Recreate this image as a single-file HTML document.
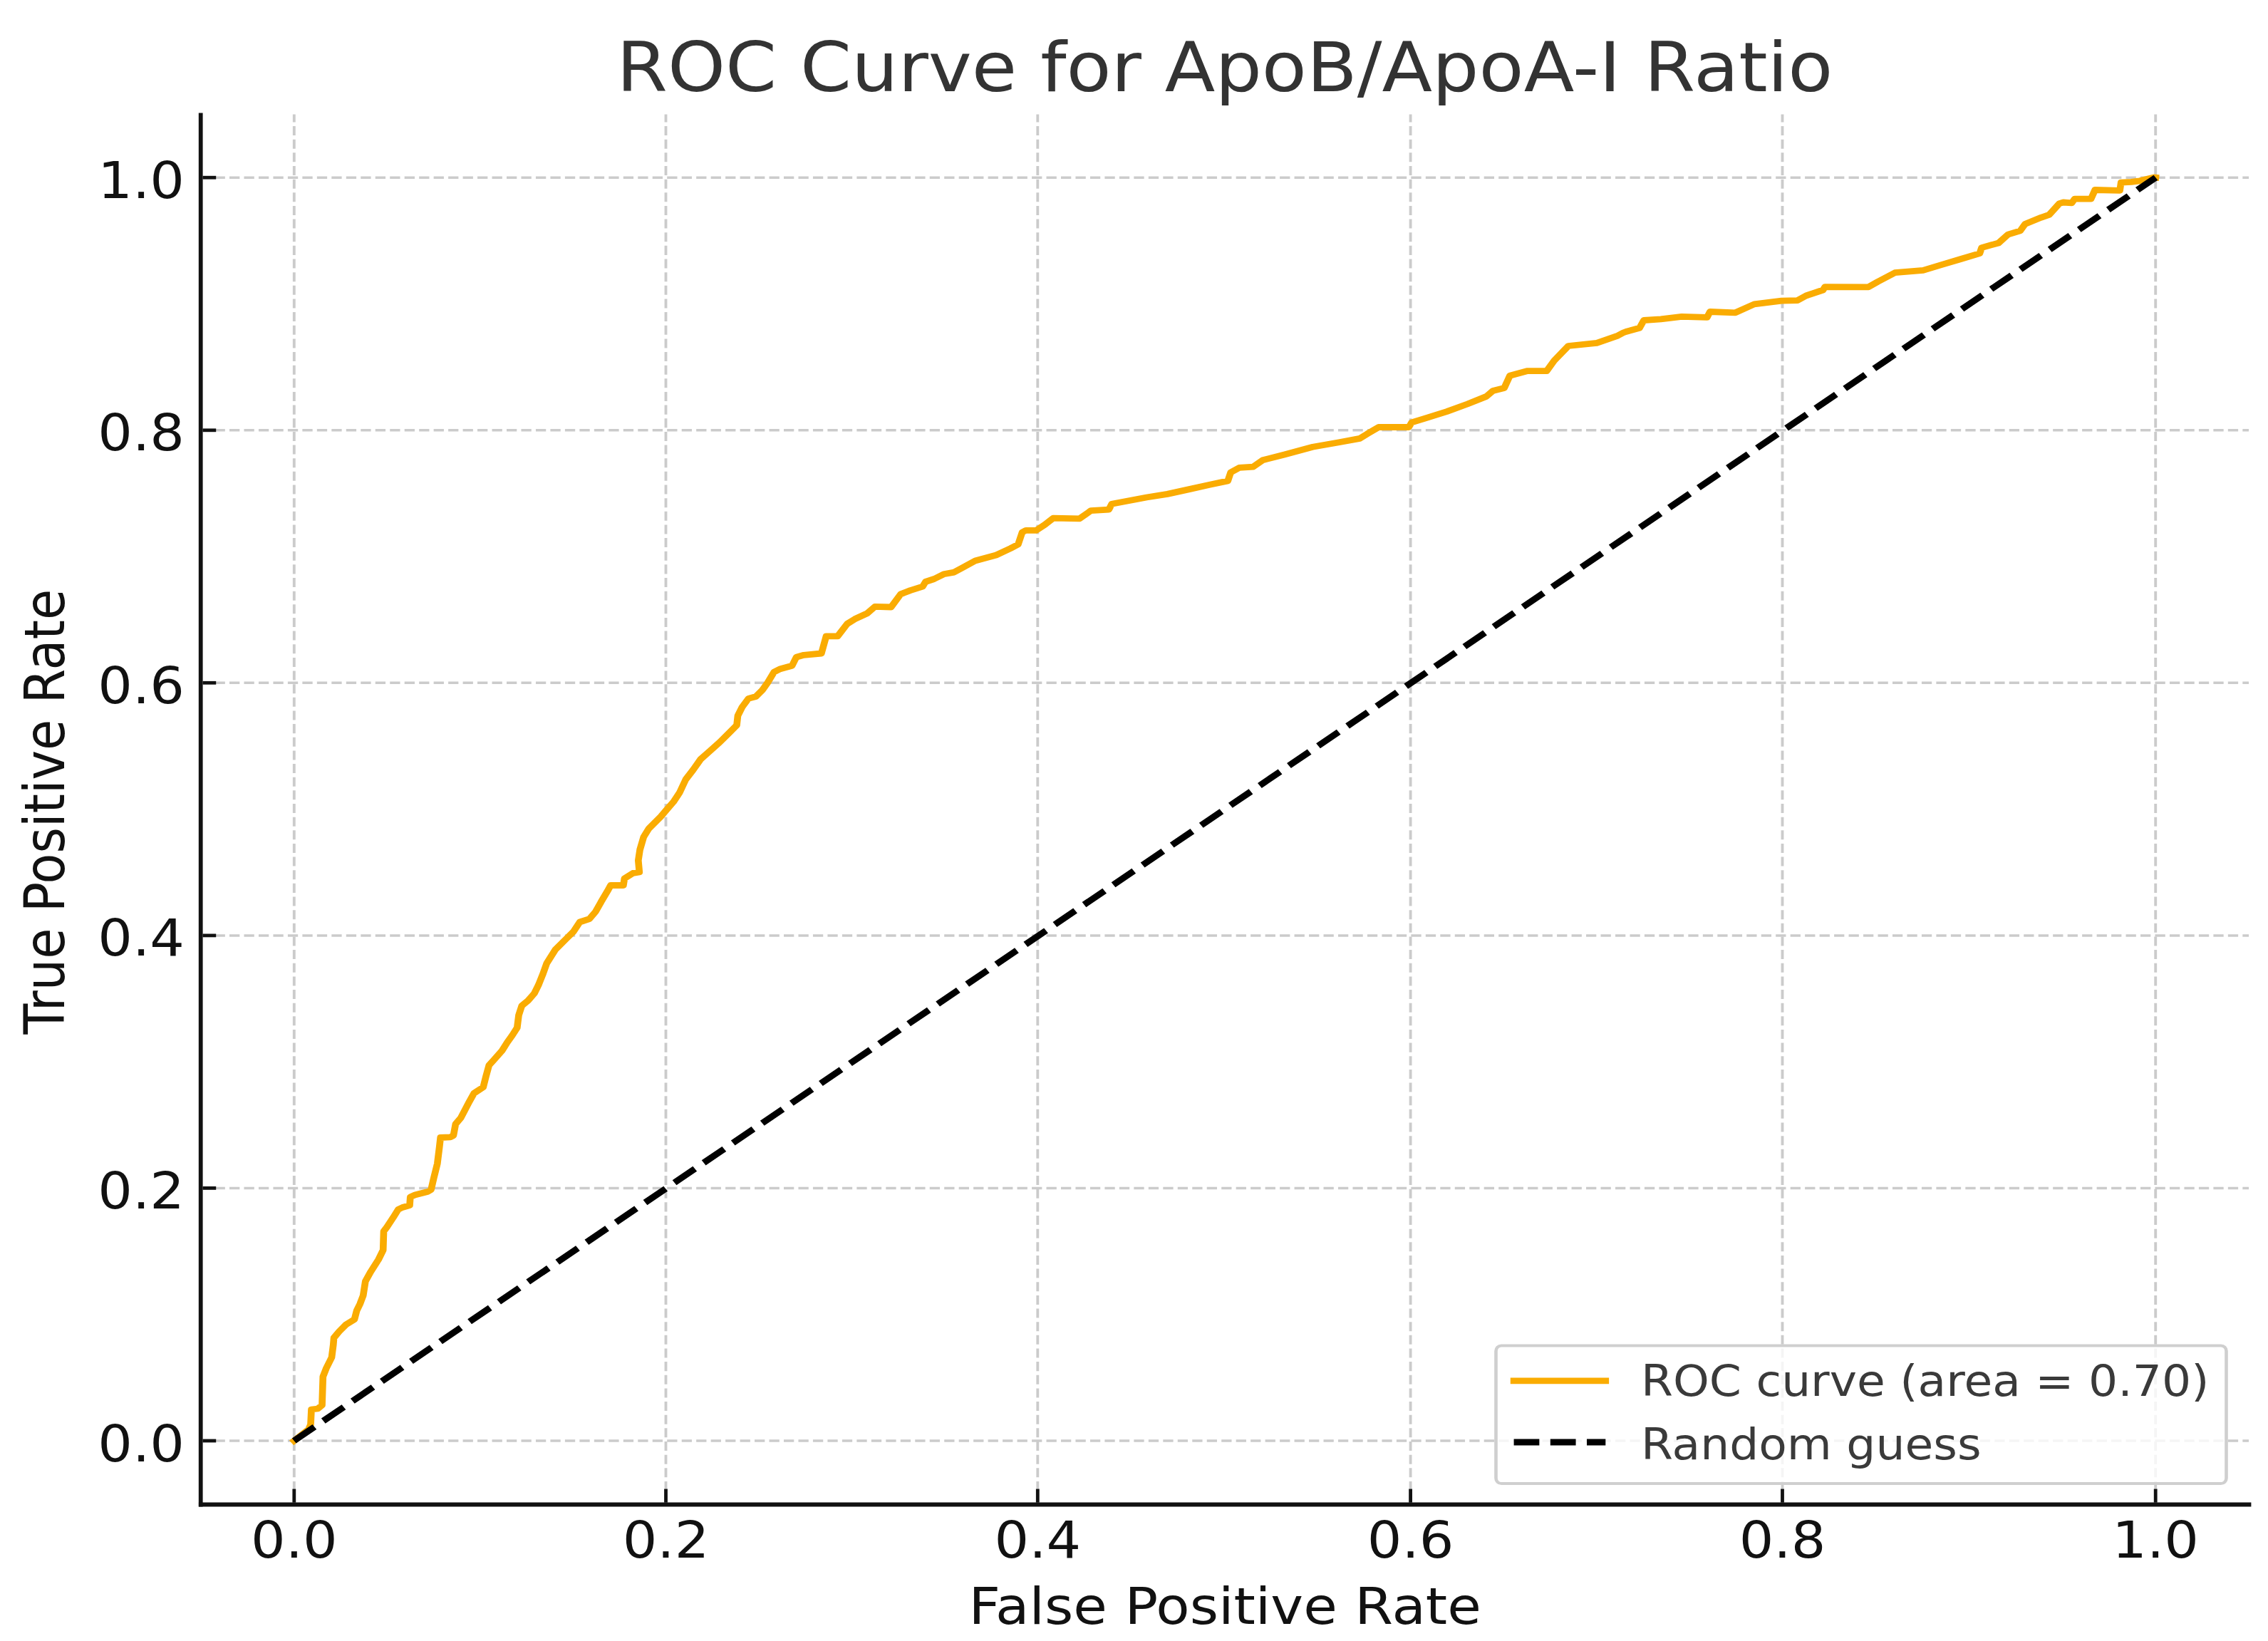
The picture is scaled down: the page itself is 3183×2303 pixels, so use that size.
<!DOCTYPE html>
<html><head><meta charset="utf-8"><style>
html,body{margin:0;padding:0;background:#fff;width:3183px;height:2303px;overflow:hidden}
svg{display:block}
text{font-family:"DejaVu Sans","Liberation Sans",sans-serif}
</style></head><body>
<svg width="3183" height="2303" viewBox="0 0 3183 2303">
<rect width="3183" height="2303" fill="#ffffff"/>
<g transform="scale(1.098,1)">
<line x1="375.96" y1="2110.6" x2="375.96" y2="160.6" stroke="#cbcbcb" stroke-width="3.518" stroke-dasharray="13.017 5.629"/>
<line x1="256.89" y1="2022.0" x2="2874.35" y2="2022.0" stroke="#cbcbcb" stroke-width="3.518" stroke-dasharray="13.017 5.629" stroke-dashoffset="0.911"/>
<line x1="851.09" y1="2110.6" x2="851.09" y2="160.6" stroke="#cbcbcb" stroke-width="3.518" stroke-dasharray="13.017 5.629"/>
<line x1="256.89" y1="1667.4" x2="2874.35" y2="1667.4" stroke="#cbcbcb" stroke-width="3.518" stroke-dasharray="13.017 5.629" stroke-dashoffset="0.911"/>
<line x1="1326.32" y1="2110.6" x2="1326.32" y2="160.6" stroke="#cbcbcb" stroke-width="3.518" stroke-dasharray="13.017 5.629"/>
<line x1="256.89" y1="1312.9" x2="2874.35" y2="1312.9" stroke="#cbcbcb" stroke-width="3.518" stroke-dasharray="13.017 5.629" stroke-dashoffset="0.911"/>
<line x1="1802.91" y1="2110.6" x2="1802.91" y2="160.6" stroke="#cbcbcb" stroke-width="3.518" stroke-dasharray="13.017 5.629"/>
<line x1="256.89" y1="958.3" x2="2874.35" y2="958.3" stroke="#cbcbcb" stroke-width="3.518" stroke-dasharray="13.017 5.629" stroke-dashoffset="0.911"/>
<line x1="2278.23" y1="2110.6" x2="2278.23" y2="160.6" stroke="#cbcbcb" stroke-width="3.518" stroke-dasharray="13.017 5.629"/>
<line x1="256.89" y1="603.8" x2="2874.35" y2="603.8" stroke="#cbcbcb" stroke-width="3.518" stroke-dasharray="13.017 5.629" stroke-dashoffset="0.911"/>
<line x1="2755.19" y1="2110.6" x2="2755.19" y2="160.6" stroke="#cbcbcb" stroke-width="3.518" stroke-dasharray="13.017 5.629"/>
<line x1="256.89" y1="249.2" x2="2874.35" y2="249.2" stroke="#cbcbcb" stroke-width="3.518" stroke-dasharray="13.017 5.629" stroke-dashoffset="0.911"/>
<polyline points="375.87,2022.0 394.35,2006.0 397.09,1999.0 398.00,1978.0 406.19,1977.0 411.66,1972.0 412.84,1932.0 417.12,1920.0 423.95,1905.0 426.05,1887.0 426.78,1877.5 433.70,1868.4 441.99,1859.2 453.10,1851.6 455.92,1839.4 460.02,1830.3 464.21,1818.1 467.03,1798.3 473.95,1784.6 483.79,1767.6 489.71,1754.4 490.44,1728.1 494.44,1722.3 502.37,1709.1 509.02,1697.4 514.39,1694.5 523.68,1691.6 524.41,1679.9 530.33,1677.0 546.36,1672.6 551.00,1669.6 554.37,1653.6 559.02,1633.1 561.66,1609.7 563.02,1596.5 575.59,1595.8 579.60,1593.6 582.33,1577.5 588.98,1568.8 599.09,1547.6 605.74,1534.4 617.67,1525.7 621.04,1511.1 625.05,1495.0 631.06,1487.7 641.71,1474.5 648.36,1462.8 655.01,1452.6 661.02,1442.3 663.02,1424.8 666.94,1411.6 674.95,1404.3 682.97,1394.1 688.25,1382.4 693.62,1367.8 698.91,1351.7 709.84,1332.8 723.41,1317.9 732.97,1307.5 741.07,1294.0 753.37,1289.6 761.48,1279.1 768.31,1265.7 776.41,1250.7 780.51,1242.5 796.81,1242.5 798.18,1232.8 809.11,1225.4 817.21,1223.9 815.85,1207.5 817.94,1192.5 822.68,1174.6 829.42,1162.7 834.88,1156.7 844.44,1146.3 852.55,1135.8 860.75,1125.4 868.85,1111.9 876.50,1093.9 885.97,1080.4 895.54,1065.5 907.74,1053.6 919.95,1041.6 932.24,1028.2 941.71,1017.8 943.08,1004.3 948.54,992.4 956.65,980.4 966.21,977.5 974.41,968.5 981.15,958.1 989.34,943.1 997.45,938.7 1012.39,934.2 1017.85,922.2 1027.41,919.3 1049.91,917.0 1056.01,892.9 1070.67,892.9 1082.88,875.5 1092.62,868.8 1108.47,860.8 1118.31,851.4 1138.98,852.0 1151.18,833.9 1163.48,828.6 1179.33,823.2 1182.97,816.5 1193.99,812.5 1206.19,805.8 1219.58,803.1 1230.60,796.4 1246.45,787.0 1273.32,779.0 1291.62,769.6 1301.37,764.0 1306.56,747.0 1311.29,744.3 1324.59,744.3 1335.43,736.4 1346.27,727.1 1379.96,727.8 1394.44,716.6 1417.30,715.2 1420.95,707.3 1440.26,703.3 1465.57,698.0 1492.08,693.4 1522.13,686.1 1546.27,680.2 1569.40,674.9 1573.04,663.0 1583.88,656.4 1601.91,655.1 1614.03,645.8 1641.71,637.9 1677.87,627.3 1711.57,620.7 1738.07,615.4 1747.72,608.8 1762.20,599.5 1800.73,599.5 1804.37,592.9 1820.04,587.6 1849.18,577.6 1875.68,567.0 1899.82,556.4 1908.20,548.5 1922.68,544.5 1929.87,527.3 1951.64,520.7 1976.87,520.7 1986.52,506.1 2004.64,485.5 2040.98,481.4 2067.85,471.1 2074.68,467.0 2078.32,465.5 2095.63,460.2 2101.09,449.5 2122.95,447.9 2149.45,444.3 2181.97,445.4 2185.61,437.5 2218.12,438.8 2242.26,426.9 2277.14,422.2 2297.63,421.6 2308.47,415.0 2330.15,407.0 2332.60,402.6 2388.25,402.8 2400.36,395.2 2422.04,382.7 2458.11,379.4 2482.24,371.4 2506.38,363.5 2530.42,355.6 2532.88,347.6 2554.55,341.0 2566.58,329.1 2582.24,323.8 2588.25,314.6 2608.74,305.3 2619.22,301.4 2632.24,285.6 2637.25,284.0 2648.09,284.8 2651.73,279.2 2672.68,279.2 2677.78,266.5 2709.56,267.3 2711.02,256.2 2724.04,255.4 2734.88,253.8 2752.91,249.0 2755.37,249.2" fill="none" stroke="#FAAC02" stroke-width="8.8" stroke-linejoin="round" stroke-linecap="square"/>
<line x1="375.87" y1="2022.0" x2="2755.37" y2="249.2" stroke="#000" stroke-width="8.8" stroke-dasharray="32.56 14.08"/>
<line x1="256.56" y1="158.6" x2="256.56" y2="2114.4" stroke="#111" stroke-width="5.282"/>
<line x1="254.01" y1="2111.5" x2="2877.41" y2="2111.5" stroke="#111" stroke-width="5.8"/>
<line x1="375.96" y1="2108.7" x2="375.96" y2="2089.6" stroke="#111" stroke-width="4.372"/>
<line x1="259.20" y1="2022.0" x2="276.14" y2="2022.0" stroke="#111" stroke-width="4.8"/>
<line x1="851.09" y1="2108.7" x2="851.09" y2="2089.6" stroke="#111" stroke-width="4.372"/>
<line x1="259.20" y1="1667.4" x2="276.14" y2="1667.4" stroke="#111" stroke-width="4.8"/>
<line x1="1326.32" y1="2108.7" x2="1326.32" y2="2089.6" stroke="#111" stroke-width="4.372"/>
<line x1="259.20" y1="1312.9" x2="276.14" y2="1312.9" stroke="#111" stroke-width="4.8"/>
<line x1="1802.91" y1="2108.7" x2="1802.91" y2="2089.6" stroke="#111" stroke-width="4.372"/>
<line x1="259.20" y1="958.3" x2="276.14" y2="958.3" stroke="#111" stroke-width="4.8"/>
<line x1="2278.23" y1="2108.7" x2="2278.23" y2="2089.6" stroke="#111" stroke-width="4.372"/>
<line x1="259.20" y1="603.8" x2="276.14" y2="603.8" stroke="#111" stroke-width="4.8"/>
<line x1="2755.19" y1="2108.7" x2="2755.19" y2="2089.6" stroke="#111" stroke-width="4.372"/>
<line x1="259.20" y1="249.2" x2="276.14" y2="249.2" stroke="#111" stroke-width="4.8"/>
<text transform="translate(375.96,2186.00) scale(0.9771,1)" font-size="71.3" text-anchor="middle" fill="#111">0.0</text>
<text transform="translate(235.88,2050.50) scale(0.9771,1)" font-size="71.3" text-anchor="end" fill="#111">0.0</text>
<text transform="translate(851.09,2186.00) scale(0.9771,1)" font-size="71.3" text-anchor="middle" fill="#111">0.2</text>
<text transform="translate(235.88,1695.94) scale(0.9771,1)" font-size="71.3" text-anchor="end" fill="#111">0.2</text>
<text transform="translate(1326.32,2186.00) scale(0.9771,1)" font-size="71.3" text-anchor="middle" fill="#111">0.4</text>
<text transform="translate(235.88,1341.38) scale(0.9771,1)" font-size="71.3" text-anchor="end" fill="#111">0.4</text>
<text transform="translate(1802.91,2186.00) scale(0.9771,1)" font-size="71.3" text-anchor="middle" fill="#111">0.6</text>
<text transform="translate(235.88,986.82) scale(0.9771,1)" font-size="71.3" text-anchor="end" fill="#111">0.6</text>
<text transform="translate(2278.23,2186.00) scale(0.9771,1)" font-size="71.3" text-anchor="middle" fill="#111">0.8</text>
<text transform="translate(235.88,632.26) scale(0.9771,1)" font-size="71.3" text-anchor="end" fill="#111">0.8</text>
<text transform="translate(2755.19,2186.00) scale(0.9771,1)" font-size="71.3" text-anchor="middle" fill="#111">1.0</text>
<text transform="translate(235.88,277.70) scale(0.9771,1)" font-size="71.3" text-anchor="end" fill="#111">1.0</text>
<text transform="translate(1565.76,2278.50) scale(0.9858,1)" font-size="71.5" text-anchor="middle" fill="#111">False Positive Rate</text>
<text transform="translate(82.33,1139.2) rotate(-90) scale(0.9827,1.0064)" font-size="71.4" text-anchor="middle" fill="#111">True Positive Rate</text>
<text transform="translate(1565.39,128.00) scale(0.9851,1)" font-size="95.4" text-anchor="middle" fill="#333">ROC Curve for ApoB/ApoA-I Ratio</text>
<rect x="1912.11" y="1888.5" width="933.52" height="193.5" rx="6.83" ry="7.5" fill="#fff" fill-opacity="0.8" stroke="#cfcfcf" stroke-width="4.2"/>
<line x1="1934.97" y1="1937.9" x2="2052.19" y2="1937.9" stroke="#FAAC02" stroke-width="8.8" stroke-linecap="square"/>
<line x1="1934.97" y1="2024" x2="2052.19" y2="2024" stroke="#000" stroke-width="8.8" stroke-dasharray="32.56 14.08"/>
<text transform="translate(2097.45,1958.80) scale(0.9659,1)" font-size="61.0" text-anchor="start" fill="#3a3a3a">ROC curve (area = 0.70)</text>
<text transform="translate(2097.45,2048.20) scale(0.9659,1)" font-size="61.0" text-anchor="start" fill="#3a3a3a">Random guess</text>
</g></svg>
</body></html>
